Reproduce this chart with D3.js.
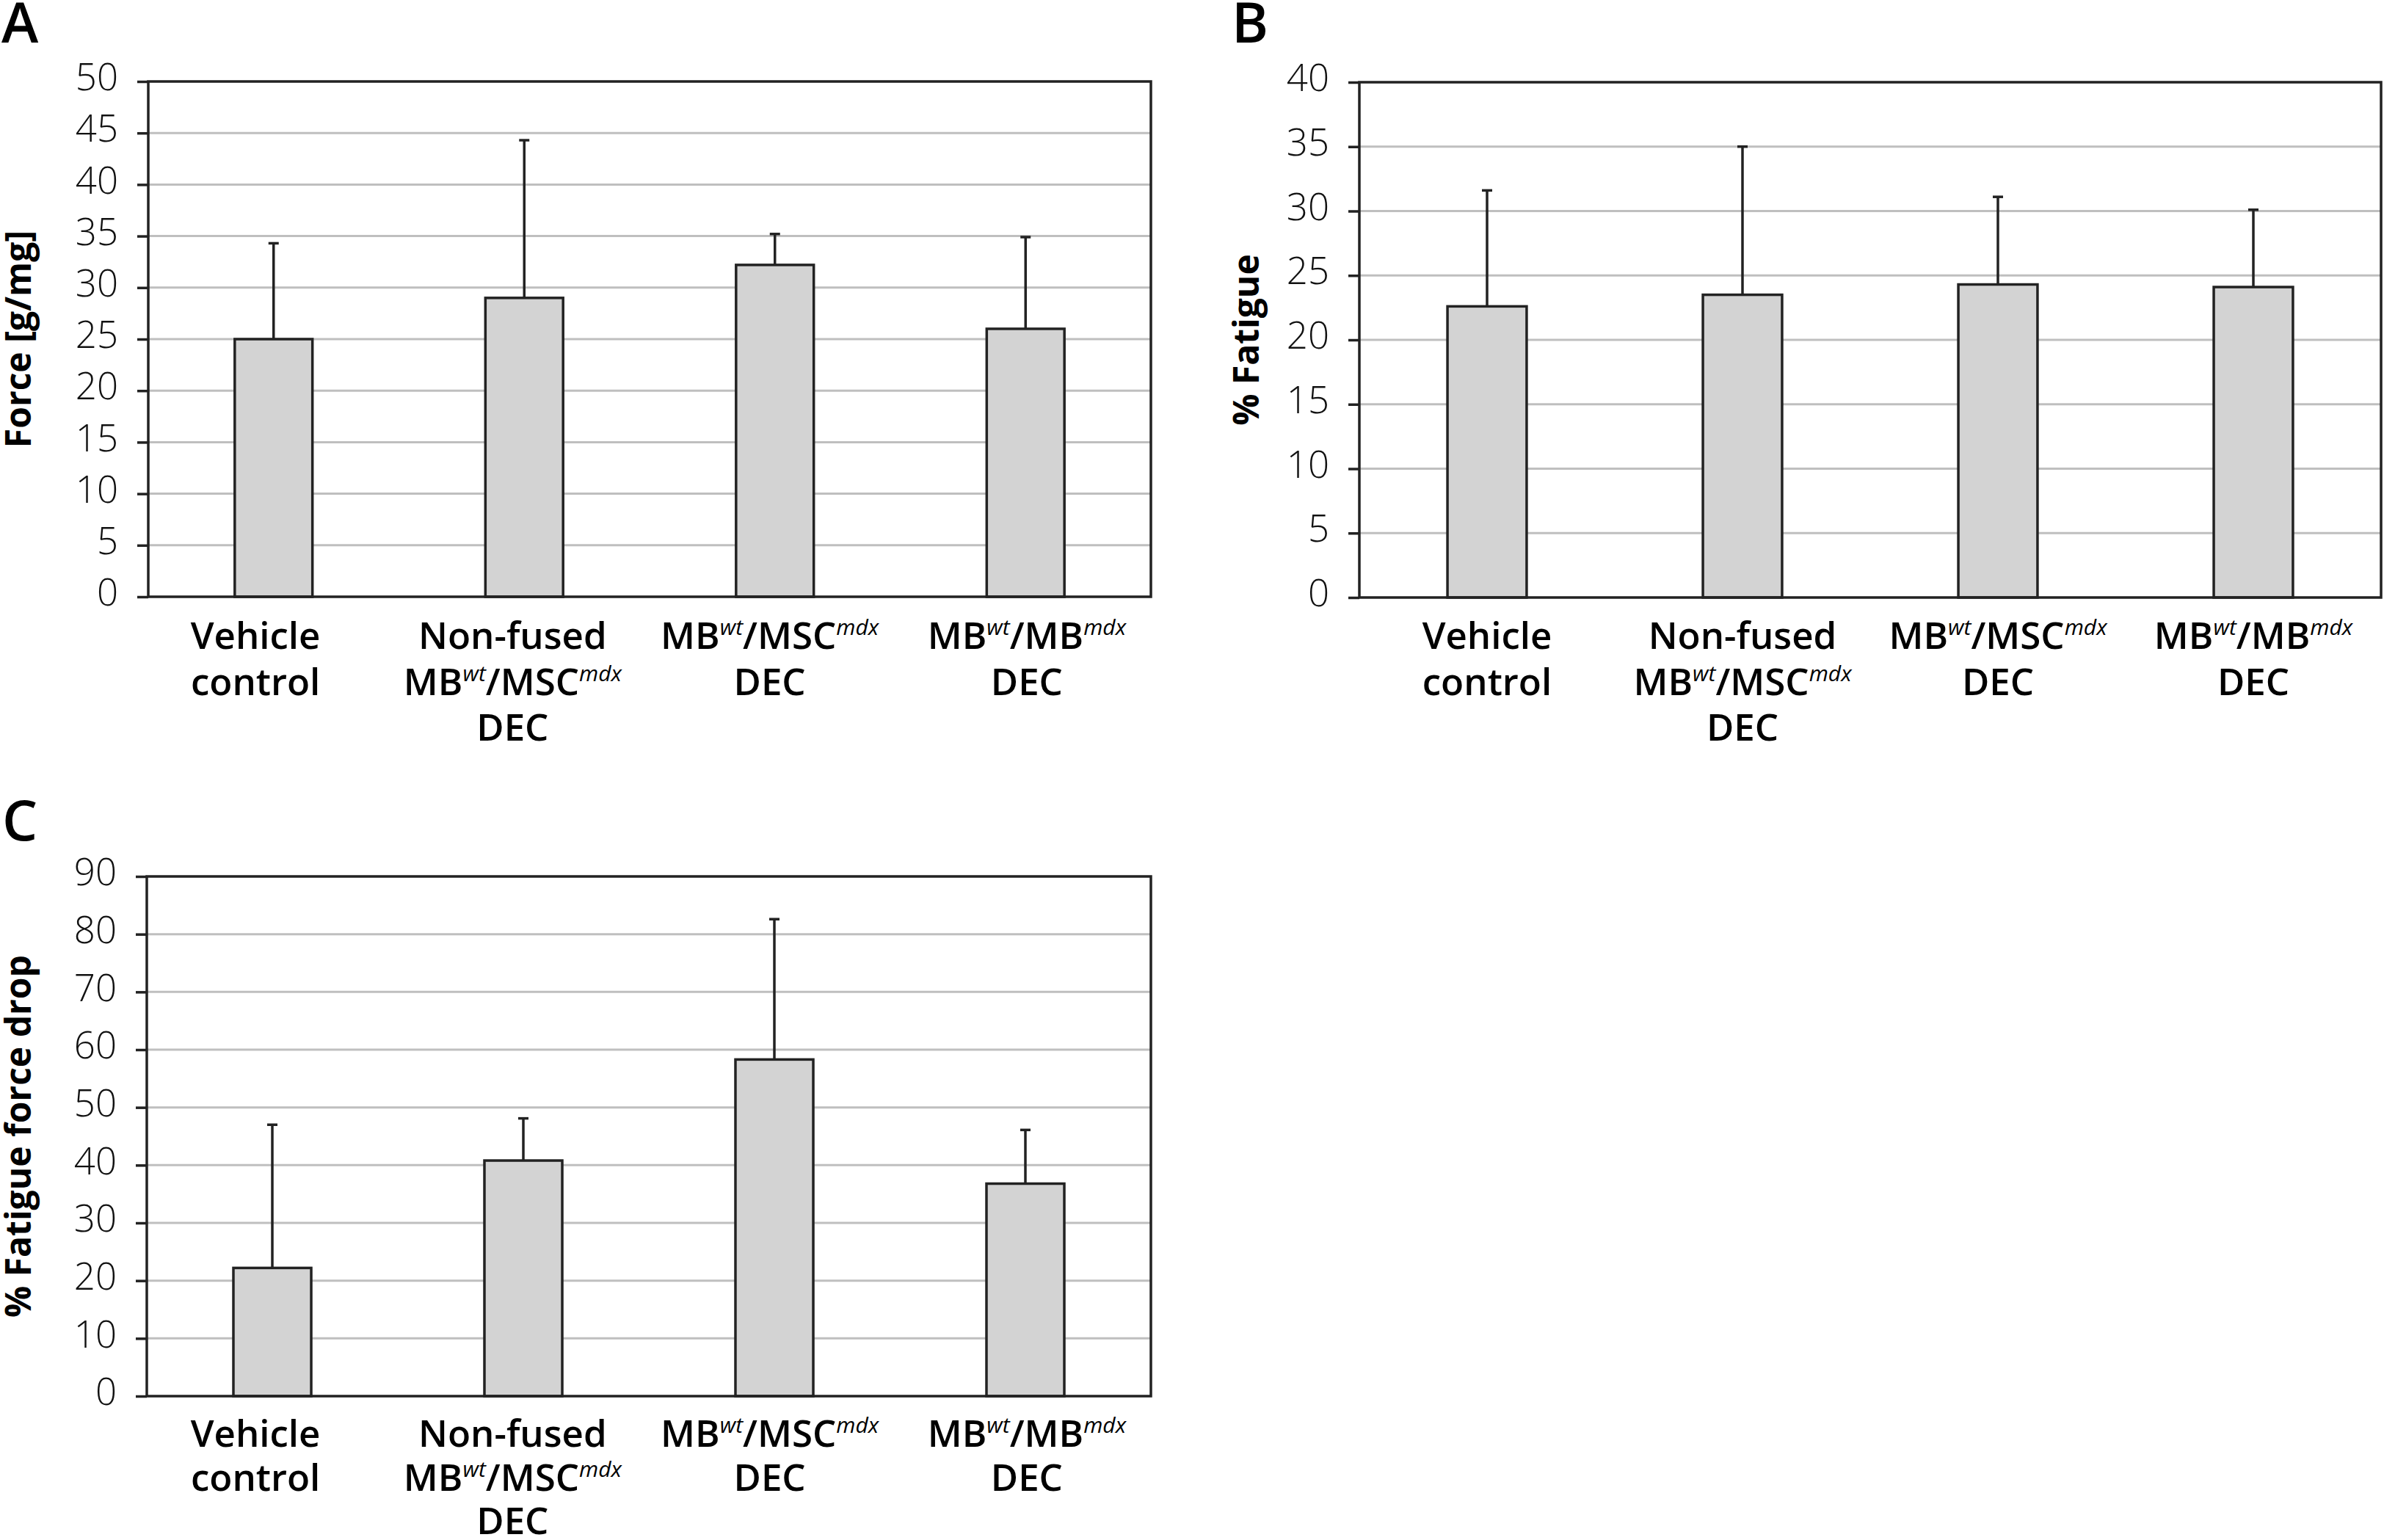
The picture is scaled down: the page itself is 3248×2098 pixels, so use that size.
<!DOCTYPE html>
<html>
<head>
<meta charset="utf-8">
<script src="https://cdn.jsdelivr.net/npm/d3@7"></script>
<style>
  html, body { margin: 0; padding: 0; background: #fff; }
  svg { display: block; }
</style>
</head>
<body>
<svg id="chart" width="3248" height="2098"></svg>
<script>
// ---------- DATA ----------
const categories = [
  "Vehicle|control",
  "Non-fused|MB^{wt}/MSC^{mdx}|DEC",
  "MB^{wt}/MSC^{mdx}|DEC",
  "MB^{wt}/MB^{mdx}|DEC"
];
// Panel A: Force [g/mg]
const forceMean = [25.0, 29.0, 32.2, 26.0];
const forceSD   = [9.3, 15.3, 3.0, 8.9];
const forceTicks = [0, 5, 10, 15, 20, 25, 30, 35, 40, 45, 50];
// Panel B: % Fatigue
const fatigueMean = [22.6, 23.5, 24.3, 24.1];
const fatigueSD   = [9.0, 11.5, 6.8, 6.0];
const fatigueTicks = [0, 5, 10, 15, 20, 25, 30, 35, 40];
// Panel C: % Fatigue force drop
const dropMean = [22.2, 40.8, 58.3, 36.8];
const dropSD   = [24.8, 7.3, 24.3, 9.3];
const dropTicks = [0, 10, 20, 30, 40, 50, 60, 70, 80, 90];

const panelLetters = ["A", "B", "C"];
const yTitles = ["Force [g/mg]", "% Fatigue", "% Fatigue force drop"];

// ---------- LAYOUT ----------
const panels = [
  { letter: panelLetters[0], title: yTitles[0], mean: forceMean, sd: forceSD, ticks: forceTicks,
    x0: 202, x1: 1568, yTop: 111, yBot: 813, letterX: 2, letterY: 58, titleX: 42,
    labX0: 173, labX1: 1574, labY: 884, labStep: 62.5 },
  { letter: panelLetters[1], title: yTitles[1], mean: fatigueMean, sd: fatigueSD, ticks: fatigueTicks,
    x0: 1852, x1: 3244, yTop: 112, yBot: 814, letterX: 1678, letterY: 58, titleX: 1715,
    labX0: 1852, labX1: 3244, labY: 884, labStep: 62.5 },
  { letter: panelLetters[2], title: yTitles[2], mean: dropMean, sd: dropSD, ticks: dropTicks,
    x0: 200, x1: 1568, yTop: 1194, yBot: 1902, letterX: 3, letterY: 1145, titleX: 42,
    labX0: 173, labX1: 1574, labY: 1971, labStep: 59.5 }
];

const AX = "#222222";
const svg = d3.select("#chart");

function addRich(textSel, str, supSize, supRise) {
  const parts = str.split(/(\^\{[^}]*\})/).filter(s => s.length);
  let pending = 0;
  parts.forEach(p => {
    if (p.startsWith("^{")) {
      textSel.append("tspan")
        .attr("dy", -supRise - pending)
        .attr("font-size", supSize)
        .attr("font-style", "italic")
        .attr("font-weight", 400)
        .text(p.slice(2, -1));
      pending = -supRise;
    } else {
      const t = textSel.append("tspan").text(p);
      if (pending) t.attr("dy", -pending);
      pending = 0;
    }
  });
}

panels.forEach(p => {
  const g = svg.append("g");
  const ymax = p.ticks[p.ticks.length - 1];
  const x = d3.scaleBand().domain(categories).range([p.x0, p.x1])
    .paddingInner(0.69).paddingOuter(0.345);
  const xl = d3.scaleBand().domain(categories).range([p.labX0, p.labX1]);
  const y = d3.scaleLinear().domain([0, ymax]).range([p.yBot, p.yTop]);

  // gridlines
  g.append("g").selectAll("line")
    .data(p.ticks.filter(t => t > 0 && t < ymax))
    .join("line")
    .attr("x1", p.x0).attr("x2", p.x1)
    .attr("y1", d => y(d)).attr("y2", d => y(d))
    .attr("stroke", "#bfbfbf").attr("stroke-width", 3);

  // bars
  g.append("g").selectAll("rect")
    .data(p.mean)
    .join("rect")
    .attr("x", (d, i) => x(categories[i]))
    .attr("width", x.bandwidth())
    .attr("y", d => y(d))
    .attr("height", d => y(0) - y(d))
    .attr("fill", "#d3d3d3")
    .attr("stroke", AX).attr("stroke-width", 3.5);

  // error bars (upper only)
  const eb = g.append("g");
  p.mean.forEach((m, i) => {
    const cx = x(categories[i]) + x.bandwidth() / 2;
    eb.append("line")
      .attr("x1", cx).attr("x2", cx)
      .attr("y1", y(m)).attr("y2", y(m + p.sd[i]))
      .attr("stroke", AX).attr("stroke-width", 3.5);
    eb.append("line")
      .attr("x1", cx - 7).attr("x2", cx + 7)
      .attr("y1", y(m + p.sd[i])).attr("y2", y(m + p.sd[i]))
      .attr("stroke", AX).attr("stroke-width", 3.5);
  });

  // y axis with ticks
  const yAxis = d3.axisLeft(y).tickValues(p.ticks).tickSize(15).tickPadding(26)
    .tickFormat(d3.format("d"));
  const ag = g.append("g").attr("transform", `translate(${p.x0},0)`).call(yAxis);
  ag.select(".domain").remove();
  ag.selectAll(".tick line").attr("stroke", AX).attr("stroke-width", 3.5);
  ag.selectAll(".tick text")
    .attr("font-family", "'Open Sans', Lato, 'Noto Sans', sans-serif")
    .attr("font-weight", 300)
    .attr("font-size", 51)
    .attr("fill", "#111")
    .attr("dy", "0.23em");

  // frame
  g.append("rect")
    .attr("x", p.x0).attr("y", p.yTop)
    .attr("width", p.x1 - p.x0).attr("height", p.yBot - p.yTop)
    .attr("fill", "none").attr("stroke", AX).attr("stroke-width", 3.5);

  // category labels
  categories.forEach(c => {
    const cx = xl(c) + xl.bandwidth() / 2;
    c.split("|").forEach((line, li) => {
      const t = g.append("text")
        .attr("x", cx).attr("y", p.labY + li * p.labStep)
        .attr("text-anchor", "middle")
        .attr("font-family", "'Open Sans', 'Noto Sans', sans-serif")
        .attr("font-weight", 600)
        .attr("font-size", 51)
        .attr("fill", "#000");
      addRich(t, line, 30, 19);
    });
  });

  // y title
  g.append("text")
    .attr("transform", `translate(${p.titleX},${(p.yTop + p.yBot) / 2}) rotate(-90)`)
    .attr("text-anchor", "middle")
    .attr("font-family", "'Open Sans', 'Noto Sans', sans-serif")
    .attr("font-weight", 700)
    .attr("font-size", 48)
    .attr("fill", "#000")
    .text(p.title);

  // panel letter
  g.append("text")
    .attr("x", p.letterX).attr("y", p.letterY)
    .attr("font-family", "'Open Sans', 'Noto Sans', sans-serif")
    .attr("font-weight", 600)
    .attr("font-size", 76)
    .attr("fill", "#000")
    .text(p.letter);
});
</script>
</body>
</html>
